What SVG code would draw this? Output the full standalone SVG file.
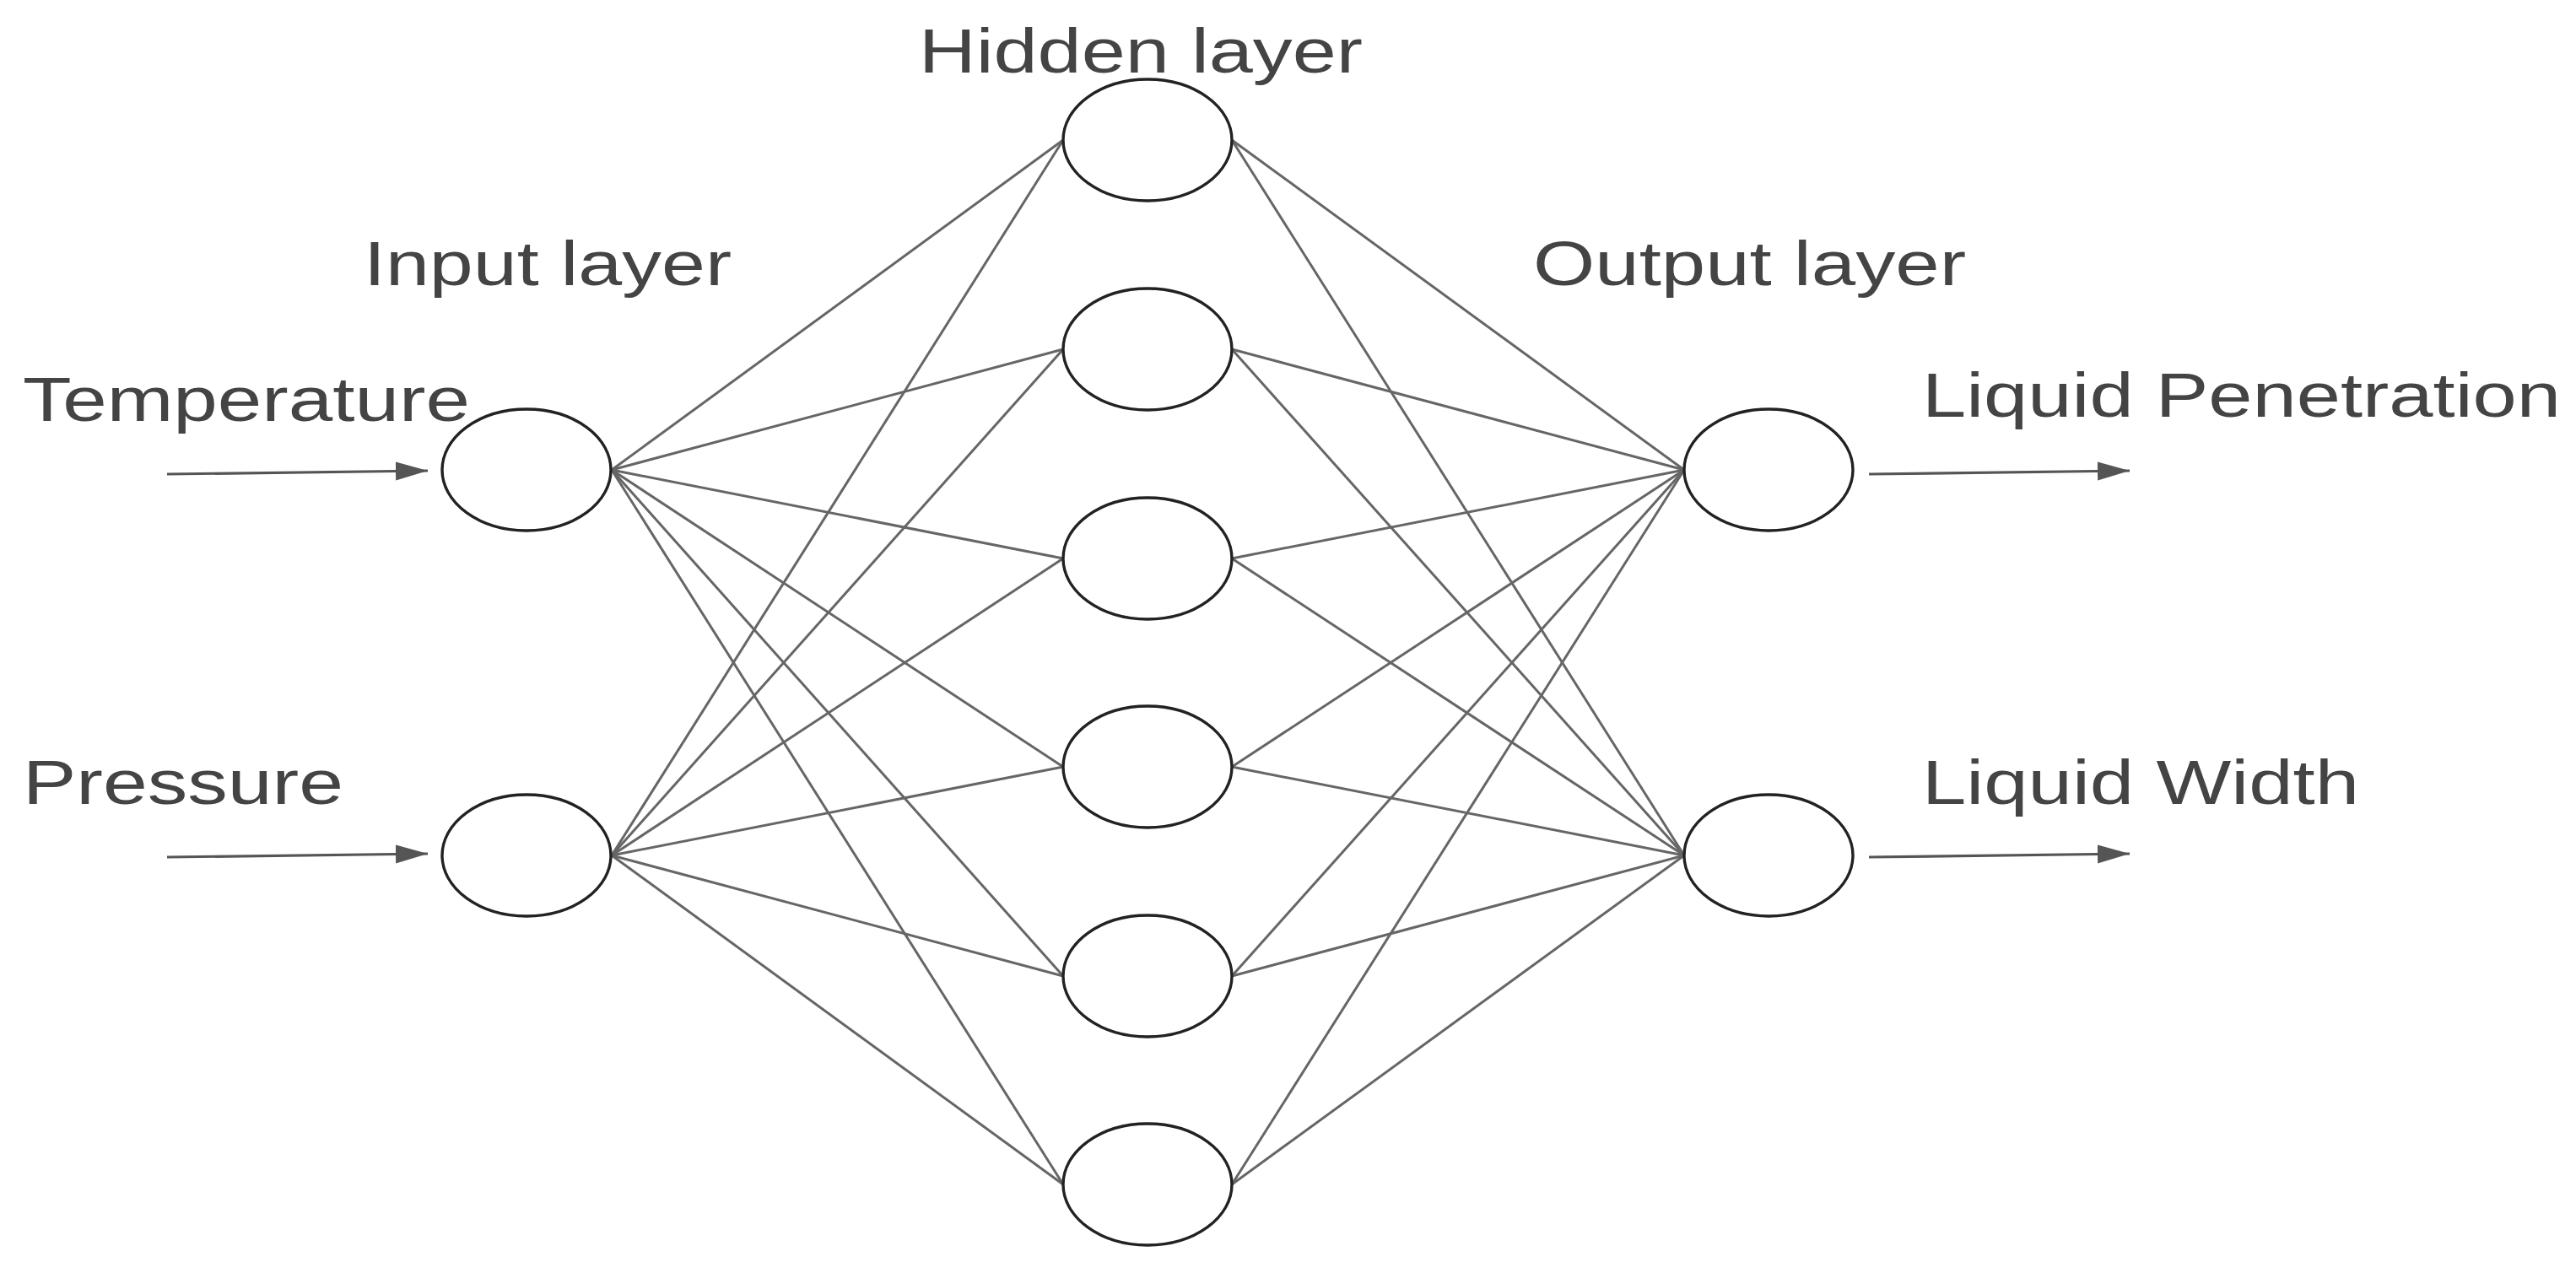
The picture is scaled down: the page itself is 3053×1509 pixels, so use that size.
<svg xmlns="http://www.w3.org/2000/svg" width="3053" height="1509" viewBox="0 0 3053 1509">
<style>
.node{fill:#fff;stroke:#222;stroke-width:3.4}
.edge{stroke:#666;stroke-width:3;fill:none}
.io{stroke:#555;stroke-width:3.2;fill:none}
.lbl{font-family:"Liberation Sans",Arial,sans-serif;font-size:75px;fill:#444}
</style>
<defs>
<marker id="ah" markerUnits="userSpaceOnUse" markerWidth="40" markerHeight="24" refX="38" refY="11" orient="auto">
<path d="M0,0 L38,11 L0,22 Z" fill="#555"/>
</marker>
</defs>
<rect width="3053" height="1509" fill="#fff"/>
<g id="connectors">
<g id="in-hidden">
<line class="edge" x1="725" y1="557" x2="1260" y2="166"/>
<line class="edge" x1="725" y1="557" x2="1260" y2="414"/>
<line class="edge" x1="725" y1="557" x2="1260" y2="662"/>
<line class="edge" x1="725" y1="557" x2="1260" y2="909"/>
<line class="edge" x1="725" y1="557" x2="1260" y2="1157"/>
<line class="edge" x1="725" y1="557" x2="1260" y2="1404"/>
<line class="edge" x1="725" y1="1014" x2="1260" y2="166"/>
<line class="edge" x1="725" y1="1014" x2="1260" y2="414"/>
<line class="edge" x1="725" y1="1014" x2="1260" y2="662"/>
<line class="edge" x1="725" y1="1014" x2="1260" y2="909"/>
<line class="edge" x1="725" y1="1014" x2="1260" y2="1157"/>
<line class="edge" x1="725" y1="1014" x2="1260" y2="1404"/>
</g>
<g id="hidden-out">
<line class="edge" x1="1460" y1="166" x2="1996" y2="557"/>
<line class="edge" x1="1460" y1="414" x2="1996" y2="557"/>
<line class="edge" x1="1460" y1="662" x2="1996" y2="557"/>
<line class="edge" x1="1460" y1="909" x2="1996" y2="557"/>
<line class="edge" x1="1460" y1="1157" x2="1996" y2="557"/>
<line class="edge" x1="1460" y1="1404" x2="1996" y2="557"/>
<line class="edge" x1="1460" y1="166" x2="1996" y2="1014"/>
<line class="edge" x1="1460" y1="414" x2="1996" y2="1014"/>
<line class="edge" x1="1460" y1="662" x2="1996" y2="1014"/>
<line class="edge" x1="1460" y1="909" x2="1996" y2="1014"/>
<line class="edge" x1="1460" y1="1157" x2="1996" y2="1014"/>
<line class="edge" x1="1460" y1="1404" x2="1996" y2="1014"/>
</g>
<g id="io-arrows">
<line class="io" x1="198" y1="562" x2="507" y2="558" marker-end="url(#ah)"/>
<line class="io" x1="198" y1="1016" x2="507" y2="1012" marker-end="url(#ah)"/>
<line class="io" x1="2215" y1="562" x2="2524" y2="558" marker-end="url(#ah)"/>
<line class="io" x1="2215" y1="1016" x2="2524" y2="1012" marker-end="url(#ah)"/>
</g>
</g>
<g id="input1"><ellipse class="node" cx="624" cy="557" rx="100" ry="72"/></g>
<g id="input2"><ellipse class="node" cx="624" cy="1014" rx="100" ry="72"/></g>
<g id="hidden1"><ellipse class="node" cx="1360" cy="166" rx="100" ry="72"/></g>
<g id="hidden2"><ellipse class="node" cx="1360" cy="414" rx="100" ry="72"/></g>
<g id="hidden3"><ellipse class="node" cx="1360" cy="662" rx="100" ry="72"/></g>
<g id="hidden4"><ellipse class="node" cx="1360" cy="909" rx="100" ry="72"/></g>
<g id="hidden5"><ellipse class="node" cx="1360" cy="1157" rx="100" ry="72"/></g>
<g id="hidden6"><ellipse class="node" cx="1360" cy="1404" rx="100" ry="72"/></g>
<g id="output1"><ellipse class="node" cx="2096" cy="557" rx="100" ry="72"/></g>
<g id="output2"><ellipse class="node" cx="2096" cy="1014" rx="100" ry="72"/></g>
<g id="labels">
<text class="lbl" x="1089" y="86" textLength="526" lengthAdjust="spacingAndGlyphs">Hidden layer</text>
<text class="lbl" x="431" y="338" textLength="436" lengthAdjust="spacingAndGlyphs">Input layer</text>
<text class="lbl" x="1817" y="338" textLength="513" lengthAdjust="spacingAndGlyphs">Output layer</text>
<text class="lbl" x="27" y="499" textLength="530" lengthAdjust="spacingAndGlyphs">Temperature</text>
<text class="lbl" x="27" y="953" textLength="380" lengthAdjust="spacingAndGlyphs">Pressure</text>
<text class="lbl" x="2278" y="494" textLength="757" lengthAdjust="spacingAndGlyphs">Liquid Penetration</text>
<text class="lbl" x="2278" y="953" textLength="518" lengthAdjust="spacingAndGlyphs">Liquid Width</text>
</g>
</svg>
